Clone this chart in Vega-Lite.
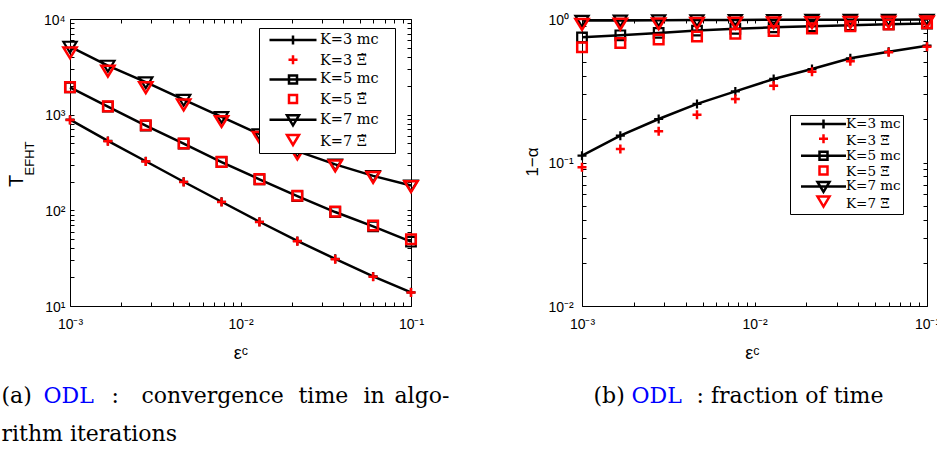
{
  "$schema": "https://vega.github.io/schema/vega-lite/v6.json",
  "padding": {"left": 0, "top": 9, "right": -4, "bottom": 0},
  "datasets": {
    "a": [
      {"eps": 0.001, "v": 887, "K": 3, "kind": "mc", "series": "K=3 mc"},
      {"eps": 0.0016681, "v": 532, "K": 3, "kind": "mc", "series": "K=3 mc"},
      {"eps": 0.0027826, "v": 326, "K": 3, "kind": "mc", "series": "K=3 mc"},
      {"eps": 0.0046416, "v": 199, "K": 3, "kind": "mc", "series": "K=3 mc"},
      {"eps": 0.0077426, "v": 123, "K": 3, "kind": "mc", "series": "K=3 mc"},
      {"eps": 0.0129155, "v": 76, "K": 3, "kind": "mc", "series": "K=3 mc"},
      {"eps": 0.0215443, "v": 47.9, "K": 3, "kind": "mc", "series": "K=3 mc"},
      {"eps": 0.0359381, "v": 31.1, "K": 3, "kind": "mc", "series": "K=3 mc"},
      {"eps": 0.0599484, "v": 20.4, "K": 3, "kind": "mc", "series": "K=3 mc"},
      {"eps": 0.1, "v": 13.9, "K": 3, "kind": "mc", "series": "K=3 mc"},
      {"eps": 0.001, "v": 880, "K": 3, "kind": "xi", "series": "K=3 \u039e\u0303"},
      {"eps": 0.0016681, "v": 528, "K": 3, "kind": "xi", "series": "K=3 \u039e\u0303"},
      {"eps": 0.0027826, "v": 324, "K": 3, "kind": "xi", "series": "K=3 \u039e\u0303"},
      {"eps": 0.0046416, "v": 198, "K": 3, "kind": "xi", "series": "K=3 \u039e\u0303"},
      {"eps": 0.0077426, "v": 122, "K": 3, "kind": "xi", "series": "K=3 \u039e\u0303"},
      {"eps": 0.0129155, "v": 75.5, "K": 3, "kind": "xi", "series": "K=3 \u039e\u0303"},
      {"eps": 0.0215443, "v": 47.5, "K": 3, "kind": "xi", "series": "K=3 \u039e\u0303"},
      {"eps": 0.0359381, "v": 30.9, "K": 3, "kind": "xi", "series": "K=3 \u039e\u0303"},
      {"eps": 0.0599484, "v": 20.2, "K": 3, "kind": "xi", "series": "K=3 \u039e\u0303"},
      {"eps": 0.1, "v": 13.8, "K": 3, "kind": "xi", "series": "K=3 \u039e\u0303"},
      {"eps": 0.001, "v": 1930, "K": 5, "kind": "mc", "series": "K=5 mc"},
      {"eps": 0.0016681, "v": 1215, "K": 5, "kind": "mc", "series": "K=5 mc"},
      {"eps": 0.0027826, "v": 770, "K": 5, "kind": "mc", "series": "K=5 mc"},
      {"eps": 0.0046416, "v": 497, "K": 5, "kind": "mc", "series": "K=5 mc"},
      {"eps": 0.0077426, "v": 320, "K": 5, "kind": "mc", "series": "K=5 mc"},
      {"eps": 0.0129155, "v": 211, "K": 5, "kind": "mc", "series": "K=5 mc"},
      {"eps": 0.0215443, "v": 141, "K": 5, "kind": "mc", "series": "K=5 mc"},
      {"eps": 0.0359381, "v": 96, "K": 5, "kind": "mc", "series": "K=5 mc"},
      {"eps": 0.0599484, "v": 68, "K": 5, "kind": "mc", "series": "K=5 mc"},
      {"eps": 0.1, "v": 47, "K": 5, "kind": "mc", "series": "K=5 mc"},
      {"eps": 0.001, "v": 1941, "K": 5, "kind": "xi", "series": "K=5 \u039e\u0303"},
      {"eps": 0.0016681, "v": 1220, "K": 5, "kind": "xi", "series": "K=5 \u039e\u0303"},
      {"eps": 0.0027826, "v": 774, "K": 5, "kind": "xi", "series": "K=5 \u039e\u0303"},
      {"eps": 0.0046416, "v": 499, "K": 5, "kind": "xi", "series": "K=5 \u039e\u0303"},
      {"eps": 0.0077426, "v": 321, "K": 5, "kind": "xi", "series": "K=5 \u039e\u0303"},
      {"eps": 0.0129155, "v": 212, "K": 5, "kind": "xi", "series": "K=5 \u039e\u0303"},
      {"eps": 0.0215443, "v": 142, "K": 5, "kind": "xi", "series": "K=5 \u039e\u0303"},
      {"eps": 0.0359381, "v": 97, "K": 5, "kind": "xi", "series": "K=5 \u039e\u0303"},
      {"eps": 0.0599484, "v": 69.5, "K": 5, "kind": "xi", "series": "K=5 \u039e\u0303"},
      {"eps": 0.1, "v": 49.9, "K": 5, "kind": "xi", "series": "K=5 \u039e\u0303"},
      {"eps": 0.001, "v": 5150, "K": 7, "kind": "mc", "series": "K=7 mc"},
      {"eps": 0.0016681, "v": 3260, "K": 7, "kind": "mc", "series": "K=7 mc"},
      {"eps": 0.0027826, "v": 2190, "K": 7, "kind": "mc", "series": "K=7 mc"},
      {"eps": 0.0046416, "v": 1433, "K": 7, "kind": "mc", "series": "K=7 mc"},
      {"eps": 0.0077426, "v": 947, "K": 7, "kind": "mc", "series": "K=7 mc"},
      {"eps": 0.0129155, "v": 625, "K": 7, "kind": "mc", "series": "K=7 mc"},
      {"eps": 0.0215443, "v": 415, "K": 7, "kind": "mc", "series": "K=7 mc"},
      {"eps": 0.0359381, "v": 302, "K": 7, "kind": "mc", "series": "K=7 mc"},
      {"eps": 0.0599484, "v": 229, "K": 7, "kind": "mc", "series": "K=7 mc"},
      {"eps": 0.1, "v": 182, "K": 7, "kind": "mc", "series": "K=7 mc"},
      {"eps": 0.001, "v": 4500, "K": 7, "kind": "xi", "series": "K=7 \u039e\u0303"},
      {"eps": 0.0016681, "v": 2894, "K": 7, "kind": "xi", "series": "K=7 \u039e\u0303"},
      {"eps": 0.0027826, "v": 1944, "K": 7, "kind": "xi", "series": "K=7 \u039e\u0303"},
      {"eps": 0.0046416, "v": 1280, "K": 7, "kind": "xi", "series": "K=7 \u039e\u0303"},
      {"eps": 0.0077426, "v": 860, "K": 7, "kind": "xi", "series": "K=7 \u039e\u0303"},
      {"eps": 0.0129155, "v": 586, "K": 7, "kind": "xi", "series": "K=7 \u039e\u0303"},
      {"eps": 0.0215443, "v": 393, "K": 7, "kind": "xi", "series": "K=7 \u039e\u0303"},
      {"eps": 0.0359381, "v": 296, "K": 7, "kind": "xi", "series": "K=7 \u039e\u0303"},
      {"eps": 0.0599484, "v": 224, "K": 7, "kind": "xi", "series": "K=7 \u039e\u0303"},
      {"eps": 0.1, "v": 179, "K": 7, "kind": "xi", "series": "K=7 \u039e\u0303"}
    ],
    "b": [
      {"eps": 0.001, "v": 0.1115, "K": 3, "kind": "mc", "series": "K=3 mc"},
      {"eps": 0.0016681, "v": 0.1538, "K": 3, "kind": "mc", "series": "K=3 mc"},
      {"eps": 0.0027826, "v": 0.201, "K": 3, "kind": "mc", "series": "K=3 mc"},
      {"eps": 0.0046416, "v": 0.256, "K": 3, "kind": "mc", "series": "K=3 mc"},
      {"eps": 0.0077426, "v": 0.313, "K": 3, "kind": "mc", "series": "K=3 mc"},
      {"eps": 0.0129155, "v": 0.382, "K": 3, "kind": "mc", "series": "K=3 mc"},
      {"eps": 0.0215443, "v": 0.448, "K": 3, "kind": "mc", "series": "K=3 mc"},
      {"eps": 0.0359381, "v": 0.532, "K": 3, "kind": "mc", "series": "K=3 mc"},
      {"eps": 0.0599484, "v": 0.592, "K": 3, "kind": "mc", "series": "K=3 mc"},
      {"eps": 0.1, "v": 0.652, "K": 3, "kind": "mc", "series": "K=3 mc"},
      {"eps": 0.001, "v": 0.0925, "K": 3, "kind": "xi", "series": "K=3 \u039e\u0303"},
      {"eps": 0.0016681, "v": 0.124, "K": 3, "kind": "xi", "series": "K=3 \u039e\u0303"},
      {"eps": 0.0027826, "v": 0.165, "K": 3, "kind": "xi", "series": "K=3 \u039e\u0303"},
      {"eps": 0.0046416, "v": 0.215, "K": 3, "kind": "xi", "series": "K=3 \u039e\u0303"},
      {"eps": 0.0077426, "v": 0.277, "K": 3, "kind": "xi", "series": "K=3 \u039e\u0303"},
      {"eps": 0.0129155, "v": 0.343, "K": 3, "kind": "xi", "series": "K=3 \u039e\u0303"},
      {"eps": 0.0215443, "v": 0.429, "K": 3, "kind": "xi", "series": "K=3 \u039e\u0303"},
      {"eps": 0.0359381, "v": 0.508, "K": 3, "kind": "xi", "series": "K=3 \u039e\u0303"},
      {"eps": 0.0599484, "v": 0.586, "K": 3, "kind": "xi", "series": "K=3 \u039e\u0303"},
      {"eps": 0.1, "v": 0.641, "K": 3, "kind": "xi", "series": "K=3 \u039e\u0303"},
      {"eps": 0.001, "v": 0.745, "K": 5, "kind": "mc", "series": "K=5 mc"},
      {"eps": 0.0016681, "v": 0.77, "K": 5, "kind": "mc", "series": "K=5 mc"},
      {"eps": 0.0027826, "v": 0.8, "K": 5, "kind": "mc", "series": "K=5 mc"},
      {"eps": 0.0046416, "v": 0.83, "K": 5, "kind": "mc", "series": "K=5 mc"},
      {"eps": 0.0077426, "v": 0.855, "K": 5, "kind": "mc", "series": "K=5 mc"},
      {"eps": 0.0129155, "v": 0.875, "K": 5, "kind": "mc", "series": "K=5 mc"},
      {"eps": 0.0215443, "v": 0.89, "K": 5, "kind": "mc", "series": "K=5 mc"},
      {"eps": 0.0359381, "v": 0.905, "K": 5, "kind": "mc", "series": "K=5 mc"},
      {"eps": 0.0599484, "v": 0.918, "K": 5, "kind": "mc", "series": "K=5 mc"},
      {"eps": 0.1, "v": 0.93, "K": 5, "kind": "mc", "series": "K=5 mc"},
      {"eps": 0.001, "v": 0.635, "K": 5, "kind": "xi", "series": "K=5 \u039e\u0303"},
      {"eps": 0.0016681, "v": 0.68, "K": 5, "kind": "xi", "series": "K=5 \u039e\u0303"},
      {"eps": 0.0027826, "v": 0.72, "K": 5, "kind": "xi", "series": "K=5 \u039e\u0303"},
      {"eps": 0.0046416, "v": 0.755, "K": 5, "kind": "xi", "series": "K=5 \u039e\u0303"},
      {"eps": 0.0077426, "v": 0.79, "K": 5, "kind": "xi", "series": "K=5 \u039e\u0303"},
      {"eps": 0.0129155, "v": 0.825, "K": 5, "kind": "xi", "series": "K=5 \u039e\u0303"},
      {"eps": 0.0215443, "v": 0.86, "K": 5, "kind": "xi", "series": "K=5 \u039e\u0303"},
      {"eps": 0.0359381, "v": 0.89, "K": 5, "kind": "xi", "series": "K=5 \u039e\u0303"},
      {"eps": 0.0599484, "v": 0.915, "K": 5, "kind": "xi", "series": "K=5 \u039e\u0303"},
      {"eps": 0.1, "v": 0.935, "K": 5, "kind": "xi", "series": "K=5 \u039e\u0303"},
      {"eps": 0.001, "v": 0.975, "K": 7, "kind": "mc", "series": "K=7 mc"},
      {"eps": 0.0016681, "v": 0.978, "K": 7, "kind": "mc", "series": "K=7 mc"},
      {"eps": 0.0027826, "v": 0.981, "K": 7, "kind": "mc", "series": "K=7 mc"},
      {"eps": 0.0046416, "v": 0.983, "K": 7, "kind": "mc", "series": "K=7 mc"},
      {"eps": 0.0077426, "v": 0.985, "K": 7, "kind": "mc", "series": "K=7 mc"},
      {"eps": 0.0129155, "v": 0.987, "K": 7, "kind": "mc", "series": "K=7 mc"},
      {"eps": 0.0215443, "v": 0.988, "K": 7, "kind": "mc", "series": "K=7 mc"},
      {"eps": 0.0359381, "v": 0.989, "K": 7, "kind": "mc", "series": "K=7 mc"},
      {"eps": 0.0599484, "v": 0.99, "K": 7, "kind": "mc", "series": "K=7 mc"},
      {"eps": 0.1, "v": 0.991, "K": 7, "kind": "mc", "series": "K=7 mc"},
      {"eps": 0.001, "v": 0.925, "K": 7, "kind": "xi", "series": "K=7 \u039e\u0303"},
      {"eps": 0.0016681, "v": 0.93, "K": 7, "kind": "xi", "series": "K=7 \u039e\u0303"},
      {"eps": 0.0027826, "v": 0.935, "K": 7, "kind": "xi", "series": "K=7 \u039e\u0303"},
      {"eps": 0.0046416, "v": 0.94, "K": 7, "kind": "xi", "series": "K=7 \u039e\u0303"},
      {"eps": 0.0077426, "v": 0.945, "K": 7, "kind": "xi", "series": "K=7 \u039e\u0303"},
      {"eps": 0.0129155, "v": 0.95, "K": 7, "kind": "xi", "series": "K=7 \u039e\u0303"},
      {"eps": 0.0215443, "v": 0.953, "K": 7, "kind": "xi", "series": "K=7 \u039e\u0303"},
      {"eps": 0.0359381, "v": 0.957, "K": 7, "kind": "xi", "series": "K=7 \u039e\u0303"},
      {"eps": 0.0599484, "v": 0.96, "K": 7, "kind": "xi", "series": "K=7 \u039e\u0303"},
      {"eps": 0.1, "v": 0.963, "K": 7, "kind": "xi", "series": "K=7 \u039e\u0303"}
    ]
  },
  "spacing": 171,
  "bounds": "flush",
  "resolve": {"scale": {"color": "independent", "shape": "independent"}, "legend": {"color": "independent", "shape": "independent"}},
  "hconcat": [
    {
      "width": 341,
      "height": 287,
      "data": {"name": "a"},
      "layer": [
        {
          "transform": [{"filter": "datum.kind == 'mc'"}],
          "mark": {"type": "line", "color": "black", "strokeWidth": 2.5},
          "encoding": {
            "x": {"field": "eps", "type": "quantitative", "scale": {"type": "log", "domain": [0.001, 0.1], "nice": false},
              "axis": {"orient": "bottom", "values": [0.001,0.002,0.003,0.004,0.005,0.006,0.007,0.008,0.009,0.01,0.02,0.03,0.04,0.05,0.06,0.07,0.08,0.09,0.1],
                "labelExpr": "datum.value == 0.001 ? '10\u207b\u00b3' : datum.value == 0.01 ? '10\u207b\u00b2' : datum.value == 0.1 ? '10\u207b\u00b9' : ''",
                "tickSize": -4, "labelPadding": 15, "title": "\u03b5\u1d9c", "titleFontSize": 18, "titleX": 170.5, "titleY": 52, "titleAlign": "center", "titleBaseline": "alphabetic", "titleAngle": 0}},
            "y": {"field": "v", "type": "quantitative", "scale": {"type": "log", "domain": [10, 10000], "nice": false},
              "axis": {"orient": "left", "values": [10,20,30,40,50,60,70,80,90,100,200,300,400,500,600,700,800,900,1000,2000,3000,4000,5000,6000,7000,8000,9000,10000],
                "labelExpr": "datum.value == 10 ? '10\u00b9' : datum.value == 100 ? '10\u00b2' : datum.value == 1000 ? '10\u00b3' : datum.value == 10000 ? '10\u2074' : ''",
                "tickSize": -4, "labelPadding": 9, "labelOffset": 1, "title": "T", "titleFontSize": 20, "titleX": -48, "titleY": 161.5, "titleAngle": 270, "titleAlign": "center", "titleBaseline": "alphabetic"}},
            "detail": {"field": "K"}
          }
        },
        {
          "transform": [{"filter": "datum.kind == 'mc'"}],
          "mark": {"type": "point", "filled": false, "color": "black", "strokeWidth": 2.2, "size": 144, "opacity": 1},
          "encoding": {
            "x": {"field": "eps", "type": "quantitative", "scale": {"type": "log", "domain": [0.001, 0.1], "nice": false},
              "axis": {"orient": "top", "values": [0.001,0.002,0.003,0.004,0.005,0.006,0.007,0.008,0.009,0.01,0.02,0.03,0.04,0.05,0.06,0.07,0.08,0.09,0.1],
                "labels": false, "tickSize": -4, "title": "ODL", "titleColor": "#0000ff", "titleFont": "DejaVu Serif", "titleFontSize": 22, "titleX": -27, "titleY": 383, "titleAlign": "left", "titleBaseline": "alphabetic", "titleAngle": 0}},
            "y": {"field": "v", "type": "quantitative", "scale": {"type": "log", "domain": [10, 10000], "nice": false},
              "axis": {"orient": "right", "values": [10,20,30,40,50,60,70,80,90,100,200,300,400,500,600,700,800,900,1000,2000,3000,4000,5000,6000,7000,8000,9000,10000],
                "labels": false, "tickSize": -4, "title": "EFHT", "titleFontSize": 13, "titleX": -378, "titleY": 139, "titleAngle": 270, "titleAlign": "center", "titleBaseline": "alphabetic"}},
            "shape": {"field": "K", "type": "nominal", "legend": null, "scale": {"domain": [3, 5, 7], "range": ["M-0.75,0H0.75M0,-0.75V0.75", "M-0.8,-0.8H0.8V0.8H-0.8Z", "M-1.1,-0.8H1.1L0,1Z"]}}
          }
        },
        {
          "transform": [{"filter": "datum.kind == 'xi'"}],
          "mark": {"type": "point", "filled": false, "color": "#ff0000", "strokeWidth": 2.5, "size": 144, "opacity": 1},
          "encoding": {
            "x": {"field": "eps", "type": "quantitative", "scale": {"type": "log", "domain": [0.001, 0.1], "nice": false},
              "axis": {"orient": "bottom", "domain": false, "ticks": false, "labels": false, "title": ["(a)", "rithm iterations"], "titleFont": "DejaVu Serif", "titleFontSize": 22, "titleLineHeight": 38, "titleX": -69, "titleY": 96, "titleAlign": "left", "titleBaseline": "alphabetic", "titleAngle": 0}},
            "y": {"field": "v", "type": "quantitative", "scale": {"type": "log", "domain": [10, 10000], "nice": false},
              "axis": {"orient": "left", "domain": false, "ticks": false, "labels": false, "title": ":", "titleFont": "DejaVu Serif", "titleFontSize": 22, "titleX": 41, "titleY": 383, "titleAlign": "left", "titleBaseline": "alphabetic", "titleAngle": 0}},
            "shape": {"field": "K", "type": "nominal", "legend": null, "scale": {"domain": [3, 5, 7], "range": ["M-0.75,0H0.75M0,-0.75V0.75", "M-0.8,-0.8H0.8V0.8H-0.8Z", "M-1.1,-0.8H1.1L0,1Z"]}}
          }
        },
        {
          "transform": [{"filter": "datum.K > 100"}],
          "mark": {"type": "point", "filled": false, "color": "black", "opacity": 1, "strokeWidth": 2.5},
          "encoding": {
            "x": {"field": "eps", "type": "quantitative", "scale": {"type": "log", "domain": [0.001, 0.1], "nice": false},
              "axis": {"orient": "bottom", "domain": false, "ticks": false, "labels": false, "title": "convergence", "titleFont": "DejaVu Serif", "titleFontSize": 22, "titleX": 71, "titleY": 96, "titleAlign": "left", "titleBaseline": "alphabetic", "titleAngle": 0}},
            "y": {"field": "v", "type": "quantitative", "scale": {"type": "log", "domain": [10, 10000], "nice": false},
              "axis": {"orient": "left", "domain": false, "ticks": false, "labels": false, "title": "time", "titleFont": "DejaVu Serif", "titleFontSize": 22, "titleX": 228, "titleY": 383, "titleAlign": "left", "titleBaseline": "alphabetic", "titleAngle": 0}},
            "shape": {"field": "series", "type": "nominal",
              "scale": {"domain": ["K=3 mc", "K=3 \u039e\u0303", "K=5 mc", "K=5 \u039e\u0303", "K=7 mc", "K=7 \u039e\u0303"],
                "range": ["M-4.7,0H4.7M0,-0.9V0.9", "M-4.7,0", "M-4.7,0H4.7M-0.8,-0.8H0.8V0.8H-0.8Z", "M-4.7,0", "M-4.7,0H4.7M-1.2,-0.9H1.2L0,1.1Z", "M-4.7,0"]},
              "legend": {"title": null, "orient": "none", "legendX": 189, "legendY": 9, "padding": 4.75, "rowPadding": 2.7, "symbolOffset": 22, "labelOffset": 19.75, "labelFontSize": 14.5, "labelExpr": "datum.label + '\u2800'"}}
          }
        },
        {
          "transform": [{"filter": "datum.K > 100"}],
          "mark": {"type": "point", "filled": false, "color": "#ff0000", "opacity": 1, "strokeWidth": 2.5},
          "encoding": {
            "x": {"field": "eps", "type": "quantitative", "scale": {"type": "log", "domain": [0.001, 0.1], "nice": false},
              "axis": {"orient": "bottom", "domain": false, "ticks": false, "labels": false, "title": "in", "titleFont": "DejaVu Serif", "titleFontSize": 22, "titleX": 293, "titleY": 96, "titleAlign": "left", "titleBaseline": "alphabetic", "titleAngle": 0}},
            "y": {"field": "v", "type": "quantitative", "scale": {"type": "log", "domain": [10, 10000], "nice": false},
              "axis": {"orient": "left", "domain": false, "ticks": false, "labels": false, "title": "algo-", "titleFont": "DejaVu Serif", "titleFontSize": 22, "titleX": 324, "titleY": 383, "titleAlign": "left", "titleBaseline": "alphabetic", "titleAngle": 0}},
            "shape": {"field": "series", "type": "nominal",
              "scale": {"domain": ["K=3 mc", "K=3 \u039e\u0303", "K=5 mc", "K=5 \u039e\u0303", "K=7 mc", "K=7 \u039e\u0303"],
                "range": ["M-4.7,0", "M-4.7,0M-0.9,0H0.9M0,-0.9V0.9", "M-4.7,0", "M-4.7,0M-0.8,-0.8H0.8V0.8H-0.8Z", "M-4.7,0", "M-4.7,0M-1.2,-0.9H1.2L0,1.1Z"]},
              "legend": {"title": null, "orient": "none", "legendX": 189, "legendY": 9, "padding": 4.75, "rowPadding": 2.7, "symbolOffset": 22, "labelOffset": 19.75, "labelFontSize": 14.5, "labelExpr": "'\u2003'", "labelOpacity": 0, "strokeColor": "transparent", "fillColor": "transparent"}}
          }
        }
      ],
      "resolve": {"axis": {"x": "independent", "y": "independent"}, "scale": {"shape": "independent"}}
    },
    {
      "width": 345,
      "height": 287,
      "data": {"name": "b"},
      "layer": [
        {
          "transform": [{"filter": "datum.kind == 'mc'"}],
          "mark": {"type": "line", "color": "black", "strokeWidth": 2.5},
          "encoding": {
            "x": {"field": "eps", "type": "quantitative", "scale": {"type": "log", "domain": [0.001, 0.1], "nice": false},
              "axis": {"orient": "bottom", "values": [0.001,0.002,0.003,0.004,0.005,0.006,0.007,0.008,0.009,0.01,0.02,0.03,0.04,0.05,0.06,0.07,0.08,0.09,0.1],
                "labelExpr": "datum.value == 0.001 ? '10\u207b\u00b3' : datum.value == 0.01 ? '10\u207b\u00b2' : datum.value == 0.1 ? '10\u207b\u00b9' : ''",
                "tickSize": -4, "labelPadding": 15, "title": "\u03b5\u1d9c", "titleFontSize": 18, "titleX": 170, "titleY": 52, "titleAlign": "center", "titleBaseline": "alphabetic", "titleAngle": 0}},
            "y": {"field": "v", "type": "quantitative", "scale": {"type": "log", "domain": [0.01, 1], "nice": false},
              "axis": {"orient": "left", "values": [0.01,0.02,0.03,0.04,0.05,0.06,0.07,0.08,0.09,0.1,0.2,0.3,0.4,0.5,0.6,0.7,0.8,0.9,1],
                "labelExpr": "datum.value == 0.01 ? '10\u207b\u00b2' : datum.value == 0.1 ? '10\u207b\u00b9' : datum.value == 1 ? '10\u2070' : ''",
                "tickSize": -4, "labelPadding": 38, "labelAlign": "left", "labelOffset": 1, "title": "1\u2212\u03b1", "titleFontSize": 17, "titleX": -45, "titleY": 142.5, "titleAngle": 270, "titleAlign": "center", "titleBaseline": "alphabetic"}},
            "detail": {"field": "K"}
          }
        },
        {
          "transform": [{"filter": "datum.kind == 'mc'"}],
          "mark": {"type": "point", "filled": false, "color": "black", "strokeWidth": 2.2, "size": 144, "opacity": 1},
          "encoding": {
            "x": {"field": "eps", "type": "quantitative", "scale": {"type": "log", "domain": [0.001, 0.1], "nice": false},
              "axis": {"orient": "top", "values": [0.001,0.002,0.003,0.004,0.005,0.006,0.007,0.008,0.009,0.01,0.02,0.03,0.04,0.05,0.06,0.07,0.08,0.09,0.1],
                "labels": false, "tickSize": -4, "title": "ODL", "titleColor": "#0000ff", "titleFont": "DejaVu Serif", "titleFontSize": 22, "titleX": 49, "titleY": 383, "titleAlign": "left", "titleBaseline": "alphabetic", "titleAngle": 0}},
            "y": {"field": "v", "type": "quantitative", "scale": {"type": "log", "domain": [0.01, 1], "nice": false},
              "axis": {"orient": "right", "values": [0.01,0.02,0.03,0.04,0.05,0.06,0.07,0.08,0.09,0.1,0.2,0.3,0.4,0.5,0.6,0.7,0.8,0.9,1],
                "labels": false, "tickSize": -4, "title": "(b)", "titleFont": "DejaVu Serif", "titleFontSize": 22, "titleX": -334, "titleY": 383, "titleAngle": 0, "titleAlign": "left", "titleBaseline": "alphabetic"}},
            "shape": {"field": "K", "type": "nominal", "legend": null, "scale": {"domain": [3, 5, 7], "range": ["M-0.75,0H0.75M0,-0.75V0.75", "M-0.8,-0.8H0.8V0.8H-0.8Z", "M-1.1,-0.8H1.1L0,1Z"]}}
          }
        },
        {
          "transform": [{"filter": "datum.kind == 'xi'"}],
          "mark": {"type": "point", "filled": false, "color": "#ff0000", "strokeWidth": 2.5, "size": 144, "opacity": 1},
          "encoding": {
            "x": {"field": "eps", "type": "quantitative", "scale": {"type": "log", "domain": [0.001, 0.1], "nice": false},
              "axis": {"orient": "bottom", "domain": false, "ticks": false, "labels": false, "title": ": fraction of time", "titleFont": "DejaVu Serif", "titleFontSize": 22, "titleX": 114, "titleY": 96, "titleAlign": "left", "titleBaseline": "alphabetic", "titleAngle": 0}},
            "y": {"field": "v", "type": "quantitative", "scale": {"type": "log", "domain": [0.01, 1], "nice": false}, "axis": null},
            "shape": {"field": "K", "type": "nominal", "legend": null, "scale": {"domain": [3, 5, 7], "range": ["M-0.75,0H0.75M0,-0.75V0.75", "M-0.8,-0.8H0.8V0.8H-0.8Z", "M-1.1,-0.8H1.1L0,1Z"]}}
          }
        },
        {
          "transform": [{"filter": "datum.K > 100"}],
          "mark": {"type": "point", "filled": false, "color": "black", "opacity": 1, "strokeWidth": 2.5},
          "encoding": {
            "x": {"field": "eps", "type": "quantitative", "scale": {"type": "log", "domain": [0.001, 0.1], "nice": false}, "axis": null},
            "y": {"field": "v", "type": "quantitative", "scale": {"type": "log", "domain": [0.01, 1], "nice": false}, "axis": null},
            "shape": {"field": "series", "type": "nominal",
              "scale": {"domain": ["K=3 mc", "K=3 \u039e\u0303", "K=5 mc", "K=5 \u039e\u0303", "K=7 mc", "K=7 \u039e\u0303"],
                "range": ["M-4.5,0H4.5M0,-0.9V0.9", "M-4.5,0", "M-4.5,0H4.5M-0.8,-0.8H0.8V0.8H-0.8Z", "M-4.5,0", "M-4.5,0H4.5M-1.2,-0.9H1.2L0,1.1Z", "M-4.5,0"]},
              "legend": {"title": null, "orient": "none", "legendX": 208, "legendY": 96, "padding": 2.25, "rowPadding": -2.3, "symbolOffset": 24.5, "labelOffset": 15.75, "labelFontSize": 13.5, "labelExpr": "datum.label + '\u2002\u2009'"}}
          }
        },
        {
          "transform": [{"filter": "datum.K > 100"}],
          "mark": {"type": "point", "filled": false, "color": "#ff0000", "opacity": 1, "strokeWidth": 2.5},
          "encoding": {
            "x": {"field": "eps", "type": "quantitative", "scale": {"type": "log", "domain": [0.001, 0.1], "nice": false}, "axis": null},
            "y": {"field": "v", "type": "quantitative", "scale": {"type": "log", "domain": [0.01, 1], "nice": false}, "axis": null},
            "shape": {"field": "series", "type": "nominal",
              "scale": {"domain": ["K=3 mc", "K=3 \u039e\u0303", "K=5 mc", "K=5 \u039e\u0303", "K=7 mc", "K=7 \u039e\u0303"],
                "range": ["M-4.5,0", "M-4.5,0M-0.9,0H0.9M0,-0.9V0.9", "M-4.5,0", "M-4.5,0M-0.8,-0.8H0.8V0.8H-0.8Z", "M-4.5,0", "M-4.5,0M-1.2,-0.9H1.2L0,1.1Z"]},
              "legend": {"title": null, "orient": "none", "legendX": 208, "legendY": 96, "padding": 2.25, "rowPadding": -2.3, "symbolOffset": 24.5, "labelOffset": 15.75, "labelFontSize": 13.5, "labelExpr": "'\u2003'", "labelOpacity": 0, "strokeColor": "transparent", "fillColor": "transparent"}}
          }
        }
      ],
      "resolve": {"axis": {"x": "independent", "y": "independent"}, "scale": {"shape": "independent"}}
    }
  ],
  "config": {
    "font": "Liberation Sans",
    "view": {"stroke": "black", "strokeWidth": 1},
    "axis": {"grid": false, "domain": false, "tickColor": "black", "tickWidth": 1, "labelColor": "black", "labelFont": "Liberation Sans", "labelFontSize": 14, "titleColor": "black", "titleFont": "Liberation Sans", "titleFontWeight": "normal", "labelOverlap": false, "labelFlush": false, "labelBound": false},
    "legend": {"strokeColor": "black", "fillColor": "white", "cornerRadius": 0, "labelFont": "DejaVu Serif", "labelColor": "black", "symbolStrokeWidth": 2.5, "symbolSize": 100, "labelLimit": 300}
  }
}
